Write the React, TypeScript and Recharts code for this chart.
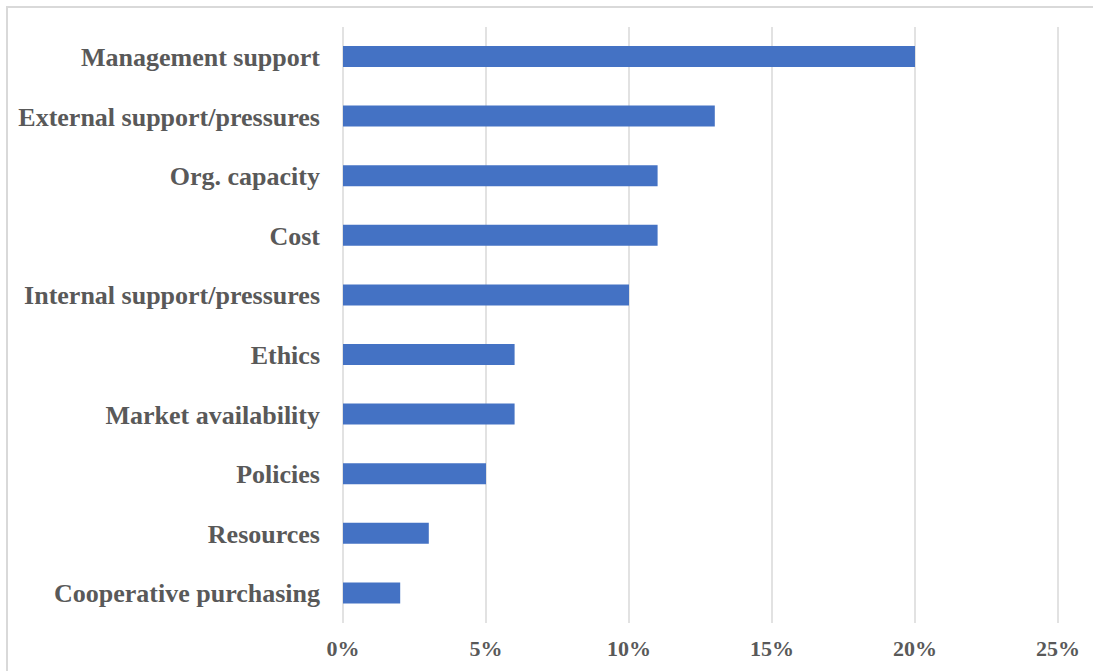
import { Bar, BarChart, CartesianGrid, XAxis, YAxis } from 'recharts';

const categories = [
  'Management support',
  'External support/pressures',
  'Org. capacity',
  'Cost',
  'Internal support/pressures',
  'Ethics',
  'Market availability',
  'Policies',
  'Resources',
  'Cooperative purchasing',
];

const shares = [20, 13, 11, 11, 10, 6, 6, 5, 3, 2];

const xTicks = [0, 5, 10, 15, 20, 25];

const data = categories.map((name, i) => ({ name, value: shares[i] }));

const font = '"Liberation Serif", "Times New Roman", serif';

export default function App() {
  return (
    <div
      style={{
        position: 'absolute',
        left: 0,
        top: 0,
        width: 1093,
        height: 671,
        overflow: 'hidden',
        background: '#fff',
      }}
    >
      <div
        style={{
          position: 'absolute',
          left: 6,
          top: 6,
          width: 1120,
          height: 700,
          border: '2px solid #d9d9d9',
        }}
      />
      <div style={{ position: 'absolute', left: 0, top: 0 }}>
        <BarChart
          width={1093}
          height={671}
          data={data}
          layout="vertical"
          margin={{ top: 27, right: 35, bottom: 0, left: 0 }}
        >
          <CartesianGrid horizontal={false} stroke="#d9d9d9" strokeWidth={1.5} />
          <XAxis
            type="number"
            domain={[0, 25]}
            ticks={xTicks}
            tickFormatter={(v) => `${v}%`}
            axisLine={false}
            tickLine={false}
            tickSize={0}
            tickMargin={17}
            height={48}
            tick={{ fill: '#595959', fontFamily: font, fontWeight: 'bold', fontSize: 22 }}
          />
          <YAxis
            type="category"
            dataKey="name"
            width={343}
            axisLine={false}
            tickLine={false}
            tickSize={0}
            tickMargin={23}
            interval={0}
            tick={{ fill: '#595959', fontFamily: font, fontWeight: 'bold', fontSize: 26 }}
          />
          <Bar dataKey="value" fill="#4472C4" barSize={21} isAnimationActive={false} />
        </BarChart>
      </div>
    </div>
  );
}
